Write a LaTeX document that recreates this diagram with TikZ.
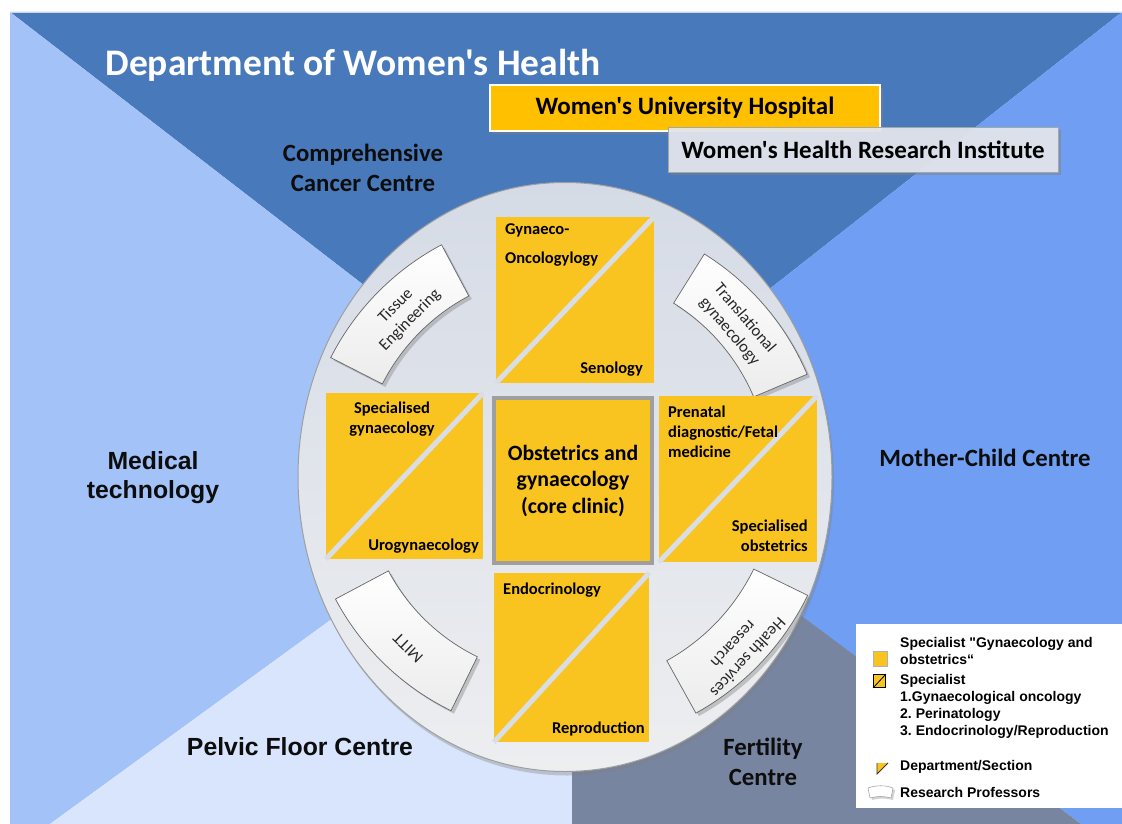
\documentclass[tikz,border=0pt]{standalone}
\usepackage{fontspec}
\usetikzlibrary{shapes.geometric,shadows}
\newfontfamily\calfont{Carlito}
\newfontfamily\arifont{Liberation Sans}
\definecolor{topblue}{HTML}{4879BA}
\definecolor{leftblue}{HTML}{A3C2F8}
\definecolor{rightblue}{HTML}{6F9EF2}
\definecolor{botlight}{HTML}{D8E5FC}
\definecolor{botslate}{HTML}{7785A1}
\definecolor{disctop}{HTML}{D5DBE6}
\definecolor{discbot}{HTML}{EDEEF0}
\definecolor{sqyellow}{HTML}{F9C41F}
\definecolor{amber}{HTML}{FFC000}
\definecolor{stripe}{HTML}{D9DEE6}
\definecolor{whrifill}{HTML}{E4E7EF}
\newcommand\rtab[4]{%
  \path[tabshape] plot[domain=#1:#2,samples=30] ({565+#4*cos(\x)},{477-#4*sin(\x)})
    -- plot[domain=#2:#1,samples=30] ({565+#3*cos(\x)},{477-#3*sin(\x)}) -- cycle;}
\begin{document}
\begin{tikzpicture}[x=1pt,y=-1pt,
  disc/.style={ellipse,inner sep=0pt,minimum width=534pt,minimum height=589pt,
    draw=gray!75,line width=1pt,top color=disctop,bottom color=discbot,
    drop shadow={opacity=0.35,shadow xshift=2pt,shadow yshift=-4pt}},
  tabshape/.style={draw=gray!80!black,line width=0.7pt,top color=white,bottom color=gray!15,
    drop shadow={opacity=0.4,shadow xshift=3pt,shadow yshift=-3pt}},
  tabtext/.style={font=\calfont\fontsize{16.5}{20}\selectfont,align=center,text=black!85},
  sq/.style={rectangle,fill=sqyellow,inner sep=0pt},
  stripeline/.style={stripe,line width=5pt},
  sqtext/.style={font=\calfont\bfseries\fontsize{16.5}{20}\selectfont,inner sep=0pt,text=black},
  region/.style={font=\arifont\bfseries\fontsize{24.8}{29}\selectfont,align=center,text=black!95},
  cregion/.style={font=\calfont\bfseries\fontsize{24.8}{30}\selectfont,align=center,text=black!95},
  legtext/.style={font=\arifont\bfseries\fontsize{14}{17}\selectfont\frenchspacing,align=left,anchor=west,inner sep=0pt},
]
\useasboundingbox (0,0) rectangle (1122,824);
\fill[white] (0,0) rectangle (1122,824);
% background quadrants
\coordinate (apex) at (571,445);
\fill[topblue] (10,12) -- (1122,12) -- (apex) -- cycle;
\fill[leftblue] (10,12) -- (apex) -- (50,824) -- (10,824) -- cycle;
\fill[rightblue] (1122,12) -- (apex) -- (1081,824) -- (1122,824) -- cycle;
\fill[botlight] (apex) -- (50,824) -- (572,824) -- (572,445) -- cycle;
\fill[botslate] (572,445) -- (572,824) -- (1081,824) -- cycle;
\draw[white!70!topblue,line width=0.8pt] (10,12.5) -- (1122,12.5);

% title and top boxes
\node[font=\calfont\bfseries\fontsize{37.5}{40}\selectfont,text=white] (title) at (353,65) {Department of Women's Health};
\node[rectangle,fill=amber,draw=white,line width=1.2pt,minimum width=390pt,minimum height=46pt,
  drop shadow={opacity=0.45,shadow xshift=3pt,shadow yshift=-3pt},
  font=\calfont\bfseries\fontsize{25}{27}\selectfont] (wuh) at (685,108) {Women's University Hospital};
\node[rectangle,fill=whrifill,fill opacity=0.92,text opacity=1,draw=gray!70,line width=1pt,
  minimum width=390pt,minimum height=45pt,
  drop shadow={opacity=0.45,shadow xshift=3pt,shadow yshift=-3pt},
  font=\calfont\bfseries\fontsize{25}{27}\selectfont] (whri) at (863,150) {Women's Health Research Institute};

% region labels
\node[cregion] (ccc) at (363,168) {Comprehensive\\Cancer Centre};
\node[region] (medtech) at (153,478) {Medical\\technology};
\node[cregion] (mcc) at (985,458) {Mother-Child Centre};
\node[region] (pfc) at (300,747) {Pelvic Floor Centre};
\node[cregion] (fert) at (763,762) {Fertility\\Centre};

% disc
\node[disc] (disc) at (565,477) {};

% research professor tabs
\rtab{118}{153}{205}{263}
\rtab{23}{58}{205}{263}
\rtab{208}{244}{200}{260}
\rtab{299}{334}{210}{270}
\node[tabtext,rotate=45.5] (te) at (403,313) {Tissue\\Engineering};
\node[tabtext,rotate=-49.5] (tg) at (737,325) {Translational\\gynaecology};
\node[tabtext,rotate=136] (mitt) at (408,648) {MITT};
\node[tabtext,rotate=227] (hsr) at (741,651) {Health services\\research};

% squares
\node[sq,minimum width=158pt,minimum height=166pt] (sqtop) at (575,300) {};
\draw[stripeline] (sqtop.south west) -- (sqtop.north east);
\node[sq,minimum width=157pt,minimum height=166pt] (sqleft) at (404.5,476) {};
\draw[stripeline] (sqleft.south west) -- (sqleft.north east);
\node[sq,minimum width=158pt,minimum height=166pt] (sqright) at (738,479) {};
\draw[stripeline] (sqright.south west) -- (sqright.north east);
\node[sq,minimum width=155pt,minimum height=169pt] (sqbot) at (571.5,657.5) {};
\draw[stripeline] (sqbot.south west) -- (sqbot.north east);
\node[sq,draw=gray!75,line width=3.5pt,minimum width=158pt,minimum height=165pt,
  font=\calfont\bfseries\fontsize{21.8}{26.5}\selectfont,align=center] (core) at (573,480.5)
  {Obstetrics and\\gynaecology\\(core clinic)};

% square texts
\node[sqtext,anchor=west] (gyn1) at (505,230) {Gynaeco-};
\node[sqtext,anchor=west] (gyn2) at (505,259) {Oncologylogy};
\node[sqtext,anchor=east] (sen) at (643,369) {Senology};
\node[sqtext,align=center] (spg) at (392,419) {Specialised\\gynaecology};
\node[sqtext,anchor=east] (uro) at (479,546) {Urogynaecology};
\node[sqtext,align=left,anchor=west] (pren) at (668,432) {Prenatal\\diagnostic/Fetal\\medicine};
\node[sqtext,align=right,anchor=east] (spo) at (808,536) {Specialised\\obstetrics};
\node[sqtext,anchor=west] (endo) at (503,590) {Endocrinology};
\node[sqtext,anchor=east] (repro) at (645,729) {Reproduction};

% legend
\node[rectangle,fill=white,minimum width=266pt,minimum height=184pt,inner sep=0pt] (legend) at (989,716) {};
\node[rectangle,fill=sqyellow,draw=gray!60,line width=0.3pt,minimum width=14pt,minimum height=15pt,inner sep=0pt] (lg1) at (880.5,659) {};
\node[legtext] (lt1) at (900,651) {Specialist "Gynaecology and\\obstetrics“};
\node[rectangle,fill=sqyellow,draw=black,line width=0.8pt,minimum width=12pt,minimum height=13pt,inner sep=0pt] (lg2) at (879.5,681) {};
\draw[black,line width=0.8pt] (lg2.south west) -- (lg2.north east);
\node[legtext] (lt2) at (900,706) {Specialist\\1.Gynaecological oncology\\2. Perinatology\\3. Endocrinology/Reproduction};
\coordinate (tri1) at (877,763);
\coordinate (tri2) at (888,763);
\coordinate (tri3) at (877,774);
\fill[sqyellow] (tri1) -- (tri2) -- (tri3) -- cycle;
\draw[black!80,line width=0.8pt] (tri1) -- (tri3) -- (tri2);
\node[legtext] (lt3) at (900,767) {Department/Section};
\path[draw=gray!70,line width=0.6pt,fill=white,drop shadow={opacity=0.35,shadow xshift=2pt,shadow yshift=-2pt}]
  (868,788) .. controls (876,785) and (886,785) .. (893,788) -- (891,798) .. controls (884,796) and (877,796) .. (870,798) -- cycle;
\node[legtext] (lt4) at (900,792) {Research Professors};
\end{tikzpicture}
\end{document}
